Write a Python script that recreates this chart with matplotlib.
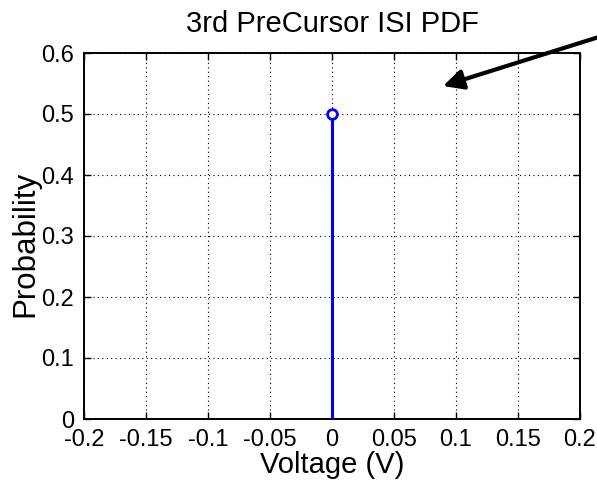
import matplotlib
matplotlib.use("Agg")
import matplotlib.pyplot as plt
from matplotlib.patches import FancyArrowPatch

plt.rcParams['font.family'] = ['Liberation Sans', 'DejaVu Sans']

voltage = [0.0]
probability = [0.5]
xticks = [-0.2, -0.15, -0.1, -0.05, 0, 0.05, 0.1, 0.15, 0.2]
xticklabels = ['-0.2', '-0.15', '-0.1', '-0.05', '0', '0.05', '0.1', '0.15', '0.2']
yticks = [0, 0.1, 0.2, 0.3, 0.4, 0.5, 0.6]
yticklabels = ['0', '0.1', '0.2', '0.3', '0.4', '0.5', '0.6']

fig = plt.figure(figsize=(5.97, 4.8), dpi=100)
ax = fig.add_axes([84/597, 1-419/480, 496/597, 366/480])

for xv, pv in zip(voltage, probability):
    ax.plot([xv, xv], [0, pv], color='#0000ff', lw=2.2, zorder=3)
ax.plot(voltage, probability, 'o', mfc='white', mec='#0000ff', mew=2, ms=7, zorder=4)

ax.set_xlim(-0.2, 0.2)
ax.set_ylim(0, 0.6)
ax.set_xticks(xticks)
ax.set_xticklabels(xticklabels)
ax.set_yticks(yticks)
ax.set_yticklabels(yticklabels)
ax.tick_params(direction='in', top=True, right=True, labelsize=17, length=5, width=1)
ax.tick_params(axis='x', pad=7)
ax.tick_params(axis='y', pad=7)
ax.grid(True, linestyle=(0, (1, 3)), color='black', linewidth=0.8)
for s in ax.spines.values():
    s.set_linewidth(1.4)

ax.set_title('3rd PreCursor ISI PDF', fontsize=21, pad=15)
ax.set_xlabel('Voltage (V)', fontsize=21, labelpad=0)
ax.set_ylabel('Probability', fontsize=22.5, va='center', ha='center')
ax.yaxis.set_label_coords(25/597, 1-244/480, transform=fig.transFigure)

fig.add_artist(FancyArrowPatch(
    posA=(602/597, 1-36/480), posB=(443/597, 1-86/480),
    transform=fig.transFigure, arrowstyle='-|>,head_length=8,head_width=4',
    color='black', lw=3, mutation_scale=1.5, shrinkA=0, shrinkB=0, clip_on=False))

fig.savefig('out.png', dpi=100)
